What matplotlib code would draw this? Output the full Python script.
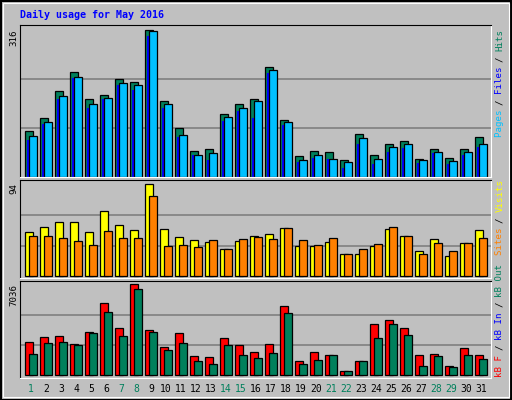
import matplotlib
matplotlib.use("Agg")
from matplotlib import pyplot as plt
import numpy as np

days = list(range(1, 32))
weekend = [1, 7, 8, 14, 15, 21, 22, 28, 29]

hits = [99, 125, 185, 224, 167, 176, 209, 204, 316, 162, 104, 54, 59, 134, 155, 166,
        235, 121, 44, 56, 52, 35, 91, 46, 71, 76, 37, 59, 39, 59, 84]
files = [87, 117, 174, 215, 157, 168, 202, 196, 314, 155, 89, 46, 50, 129, 147, 162,
         230, 117, 35, 46, 37, 31, 82, 37, 63, 69, 35, 52, 33, 52, 69]
pages = [78, 114, 166, 211, 147, 166, 196, 187, 303, 147, 84, 46, 35, 119, 140, 127,
         222, 110, 31, 39, 37, 18, 69, 26, 52, 61, 29, 50, 26, 46, 63]
visits = [45, 50, 55, 55, 45, 67, 52, 47, 94, 48, 40, 37, 35, 28, 36, 41,
          43, 49, 31, 31, 35, 23, 23, 31, 48, 41, 26, 38, 21, 34, 47]
sites = [41, 41, 39, 36, 32, 46, 39, 39, 82, 31, 32, 30, 37, 28, 38, 40,
         38, 49, 37, 32, 39, 23, 28, 33, 50, 41, 23, 34, 26, 34, 39]
kb_f = [2551, 2938, 3015, 2397, 3325, 5567, 3634, 7036, 3479, 2165, 3247, 1469, 1392,
        2861, 2320, 1778, 2397, 5335, 1082, 1778, 1546, 309, 1082, 3943, 4253, 3634,
        1546, 1624, 696, 2088, 1546]
kb_out = [1624, 2474, 2551, 2320, 3247, 4871, 3015, 6649, 3325, 1933, 2474, 1082, 851,
          2320, 1546, 1314, 1701, 4794, 851, 1160, 1546, 309, 1082, 2861, 3943, 3093,
          696, 1469, 619, 1546, 1237]

C_HITS, C_FILES, C_PAGES = "#00805c", "#00c0ff", "#0000ff"
C_VISITS, C_SITES, C_KB = "#ffff00", "#ff8000", "#ff0000"
BG = "#c0c0c0"

fig = plt.figure(figsize=(5.12, 4.0), dpi=100, facecolor=BG)
W, H = 512, 400


def px_axes(x0, y0, x1, y1):
    return fig.add_axes([x0 / W, 1 - y1 / H, (x1 - x0) / W, (y1 - y0) / H])


x = np.arange(31)


def style(ax, top, bottom, vmax):
    ax.set_facecolor(BG)
    ax.set_xlim(-0.33, 31.07)
    ax.set_ylim(bottom, top)
    for g in (vmax / 3, vmax * 2 / 3):
        ax.axhline(g, color="#808080", lw=1.2, zorder=0)
    ax.set_xticks([])
    ax.set_yticks([])
    ax.spines["left"].set_color("black")
    ax.spines["top"].set_color("black")
    ax.spines["right"].set_color("white")
    ax.spines["bottom"].set_color("white")


bk = dict(align="edge", edgecolor="black", linewidth=0.9)

ax1 = px_axes(20, 25, 491, 177)
style(ax1, 326, -1, 316)
ax1.bar(x, hits, width=0.53, color=C_HITS, **bk)
ax1.bar(x + 0.13, pages, width=0.13, color=C_PAGES, align="edge", linewidth=0)
ax1.bar(x + 0.27, files, width=0.53, color=C_FILES, **bk)

ax2 = px_axes(20, 180, 491, 278)
style(ax2, 98.4, -1.7, 94)
ax2.bar(x, visits, width=0.53, color=C_VISITS, **bk)
ax2.bar(x + 0.27, sites, width=0.53, color=C_SITES, **bk)

ax3 = px_axes(20, 281, 491, 378)
style(ax3, 7291, -209, 7036)
ax3.bar(x, kb_f, width=0.53, color=C_KB, **bk)
ax3.bar(x + 0.27, kb_out, width=0.53, color=C_HITS, **bk)

FS = 6.6
mono = "DejaVu Sans Mono"
CH = 5.35  # pixels per character


def ftext(px, py, s, fontsize=FS, **kw):
    fig.text(px / W, 1 - py / H, s, family=mono, fontsize=fontsize, **kw)


ftext(20, 15, "Daily usage for May 2016", color="#0000ff", fontweight="bold",
      va="center", fontsize=7.2)


def vlabel(px, py_bottom, parts):
    y = py_bottom
    for s, c in parts:
        ftext(px, y, s, color=c, rotation=90, ha="center", va="bottom")
        y -= CH * len(s)


vlabel(500, 137, [("Pages ", C_FILES), ("/ ", "black"), ("Files ", C_PAGES),
                  ("/ ", "black"), ("Hits", C_HITS)])
vlabel(500, 255, [("Sites ", C_SITES), ("/ ", "black"), ("Visits", C_VISITS)])
vlabel(500, 377, [("kB F ", C_KB), ("/ ", "black"), ("kB In ", C_PAGES),
                  ("/ ", "black"), ("kB Out", C_HITS)])

for lbl, py in (("316", 29), ("94", 183), ("7036", 284)):
    ftext(14, py, lbl, color="black", rotation=90, ha="center", va="top")

for i, d in enumerate(days):
    px = 20 + (i + 0.33 + 0.4) / 31.4 * 471
    ftext(px, 389, str(d), color=C_HITS if d in weekend else "black",
          ha="center", va="center", fontsize=7)

# outer frame
fig.patches.append(plt.Rectangle((0.5 / W, 0.5 / H), 1 - 1.5 / W, 1 - 1.5 / H,
                                 transform=fig.transFigure, fill=False,
                                 edgecolor="black", lw=1.5))
fig.patches.append(plt.Rectangle((3 / W, 3 / H), 1 - 6 / W, 1 - 6 / H,
                                 transform=fig.transFigure, fill=False,
                                 edgecolor="white", lw=0.8))

fig.savefig("out.png", dpi=100, facecolor=BG)
